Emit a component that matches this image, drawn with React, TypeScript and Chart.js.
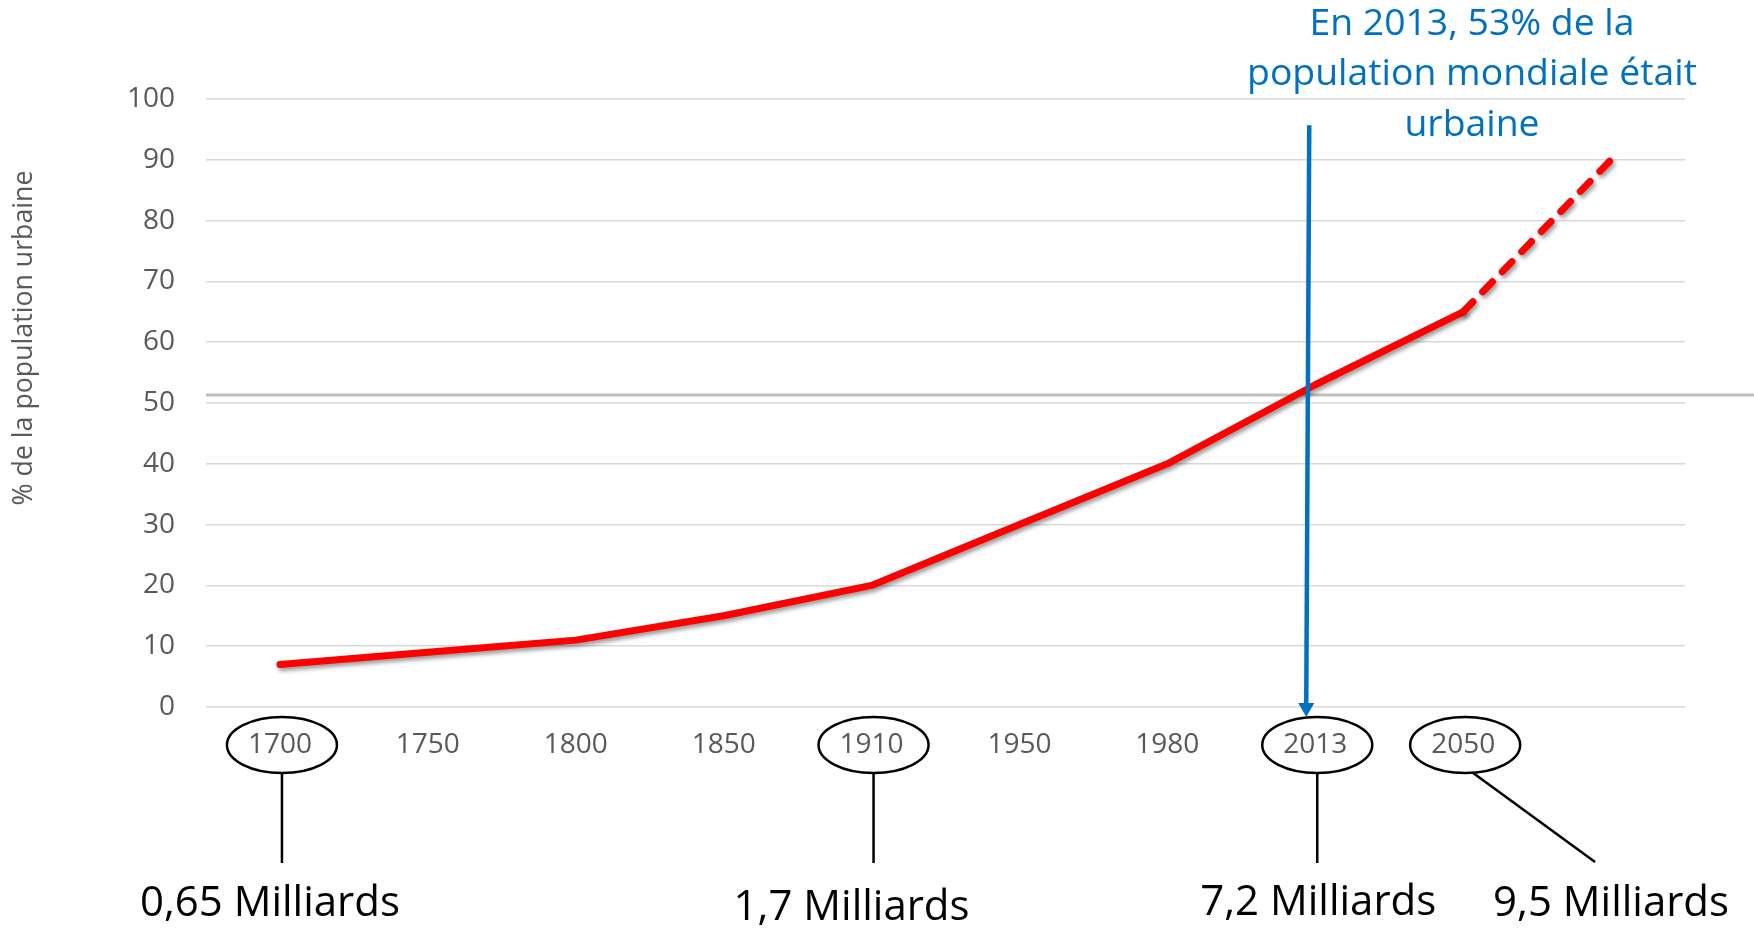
import React, { useEffect, useRef } from "react";
import { Chart, registerables } from "chart.js";

Chart.register(...registerables);

// ---- data ----
const CATEGORIES = ["1700", "1750", "1800", "1850", "1910", "1950", "1980", "2013", "2050", ""];
const URBAN_SHARE = [7, 9, 11, 15, 20, 30, 40, 53, 65, 90];
const Y_TICKS = [0, 10, 20, 30, 40, 50, 60, 70, 80, 90, 100];
const THRESHOLD = 51.3;
const CIRCLED_INDICES = [0, 4, 7, 8];
const POP_LABELS = ["0,65 Milliards", "1,7 Milliards", "7,2 Milliards", "9,5 Milliards"];
const POP_LABEL_INDICES = [0, 4, 7, 9];
const CALLOUT_LINES = ["En 2013, 53% de la", "population mondiale était", "urbaine"];
const Y_TITLE = "% de la population urbaine";
const ARROW_INDEX = 7;

const FAMILY = "'Open Sans', 'DejaVu Sans', sans-serif";

function fitSize(ctx: CanvasRenderingContext2D, text: string, width: number) {
  ctx.font = `100px ${FAMILY}`;
  const w = ctx.measureText(text).width;
  return (100 * width) / w;
}

const annotationPlugin = {
  id: "annotations",
  beforeDatasetsDraw(chart: any) {
    const { ctx, chartArea, scales } = chart;
    const y = scales.y.getPixelForValue(THRESHOLD);
    ctx.save();
    ctx.strokeStyle = "#BFBFBF";
    ctx.lineWidth = 3;
    ctx.beginPath();
    ctx.moveTo(chartArea.left, y);
    ctx.lineTo(chart.width, y);
    ctx.stroke();
    ctx.restore();
  },
  beforeDatasetDraw(chart: any) {
    const ctx = chart.ctx;
    ctx.save();
    ctx.shadowColor = "rgba(0,0,0,0.4)";
    ctx.shadowBlur = 4;
    ctx.shadowOffsetX = 2;
    ctx.shadowOffsetY = 3;
  },
  afterDatasetDraw(chart: any) {
    chart.ctx.restore();
  },
  afterDraw(chart: any) {
    const { ctx, chartArea, scales } = chart;
    const xs = scales.x;
    const ys = scales.y;
    const ey = chartArea.bottom + 38;
    const rx = 55;
    const ry = 28;

    ctx.save();
    // ellipses and connector lines
    ctx.strokeStyle = "#000";
    ctx.lineWidth = 2.5;
    CIRCLED_INDICES.forEach((i) => {
      const cx = xs.getPixelForValue(i) + 2;
      ctx.beginPath();
      ctx.ellipse(cx, ey, rx, ry, 0, 0, Math.PI * 2);
      ctx.stroke();
    });
    ctx.lineWidth = 2.5;
    POP_LABEL_INDICES.forEach((li, k) => {
      const ci = CIRCLED_INDICES[k];
      const cx = xs.getPixelForValue(ci) + 2;
      const tx = xs.getPixelForValue(li);
      ctx.beginPath();
      if (li === ci) {
        ctx.moveTo(cx, ey + ry);
        ctx.lineTo(cx, ey + ry + 90);
      } else {
        ctx.moveTo(cx + 8, ey + ry);
        ctx.lineTo(tx - 16, ey + ry + 89);
      }
      ctx.stroke();
    });

    // population labels
    const popSize = fitSize(ctx, POP_LABELS[0], 260);
    ctx.fillStyle = "#000";
    ctx.font = `${popSize}px ${FAMILY}`;
    ctx.textAlign = "center";
    ctx.textBaseline = "alphabetic";
    const offs = [-10, -20, 3, 0];
    const base = [916, 920, 915, 916];
    POP_LABELS.forEach((t, k) => {
      const tx = xs.getPixelForValue(POP_LABEL_INDICES[k]) + offs[k];
      ctx.fillText(t, tx, base[k]);
    });

    // blue arrow
    const ax = xs.getPixelForValue(ARROW_INDEX);
    const topX = ax - 6;
    const tipX = ax - 9;
    const topY = ys.getPixelForValue(95.7);
    const tipY = chartArea.bottom + 10;
    ctx.strokeStyle = "#0070C0";
    ctx.fillStyle = "#0070C0";
    ctx.lineWidth = 4.5;
    ctx.beginPath();
    ctx.moveTo(topX, topY);
    ctx.lineTo(tipX, tipY - 12);
    ctx.stroke();
    ctx.beginPath();
    ctx.moveTo(tipX - 8, tipY - 14);
    ctx.lineTo(tipX + 8, tipY - 14);
    ctx.lineTo(tipX, tipY);
    ctx.closePath();
    ctx.fill();

    // callout text
    const cs = fitSize(ctx, CALLOUT_LINES[1], 450);
    ctx.font = `${cs}px ${FAMILY}`;
    ctx.textAlign = "center";
    const cx = 1472;
    const bases = [35, 85, 136];
    CALLOUT_LINES.forEach((t, k) => ctx.fillText(t, cx, bases[k]));

    // y title
    const ts = fitSize(ctx, Y_TITLE, 335);
    ctx.font = `${ts}px ${FAMILY}`;
    ctx.fillStyle = "#595959";
    ctx.translate(32, 338);
    ctx.rotate(-Math.PI / 2);
    ctx.textAlign = "center";
    ctx.textBaseline = "alphabetic";
    ctx.fillText(Y_TITLE, 0, 0);
    ctx.restore();
  },
};

export default function App() {
  const ref = useRef<HTMLCanvasElement>(null);
  useEffect(() => {
    if (!ref.current) return;
    Chart.defaults.font.family = FAMILY;
    const chart = new Chart(ref.current, {
      type: "line",
      data: {
        labels: CATEGORIES,
        datasets: [
          {
            data: URBAN_SHARE,
            borderColor: "#FF0000",
            borderWidth: 7,
            pointRadius: 0,
            pointHoverRadius: 0,
            tension: 0,
            borderJoinStyle: "round",
            borderCapStyle: "round",
            fill: false,
            segment: {
              borderDash: (c: any) => (c.p1DataIndex === URBAN_SHARE.length - 1 ? [14, 14] : undefined),
            },
          },
        ],
      },
      options: {
        animation: false,
        responsive: false,
        devicePixelRatio: 1,
        layout: { padding: { left: 0, top: 99, right: 69, bottom: 0 } },
        plugins: { legend: { display: false }, tooltip: { enabled: false }, title: { display: false } },
        scales: {
          x: {
            offset: true,
            grid: { display: false, drawTicks: false },
            border: { display: false },
            ticks: { color: "#595959", font: { size: 28 }, padding: 21, maxRotation: 0, autoSkip: false },
            afterFit: (s: any) => {
              s.height = 223;
            },
          },
          y: {
            min: 0,
            max: 100,
            afterBuildTicks: (s: any) => {
              s.ticks = Y_TICKS.map((v) => ({ value: v }));
            },
            grid: { color: "#D9D9D9", lineWidth: 1.5, drawTicks: false },
            border: { display: false },
            ticks: { color: "#595959", font: { size: 28 }, padding: 31 },
            afterFit: (s: any) => {
              s.width = 206;
            },
          },
        },
      },
      plugins: [annotationPlugin],
    } as any);
    return () => chart.destroy();
  }, []);
  return (
    <div style={{ position: "fixed", left: 0, top: 0, width: 1754, height: 930, background: "#fff" }}>
      <canvas ref={ref} width={1754} height={930} style={{ width: 1754, height: 930, display: "block" }} />
    </div>
  );
}
